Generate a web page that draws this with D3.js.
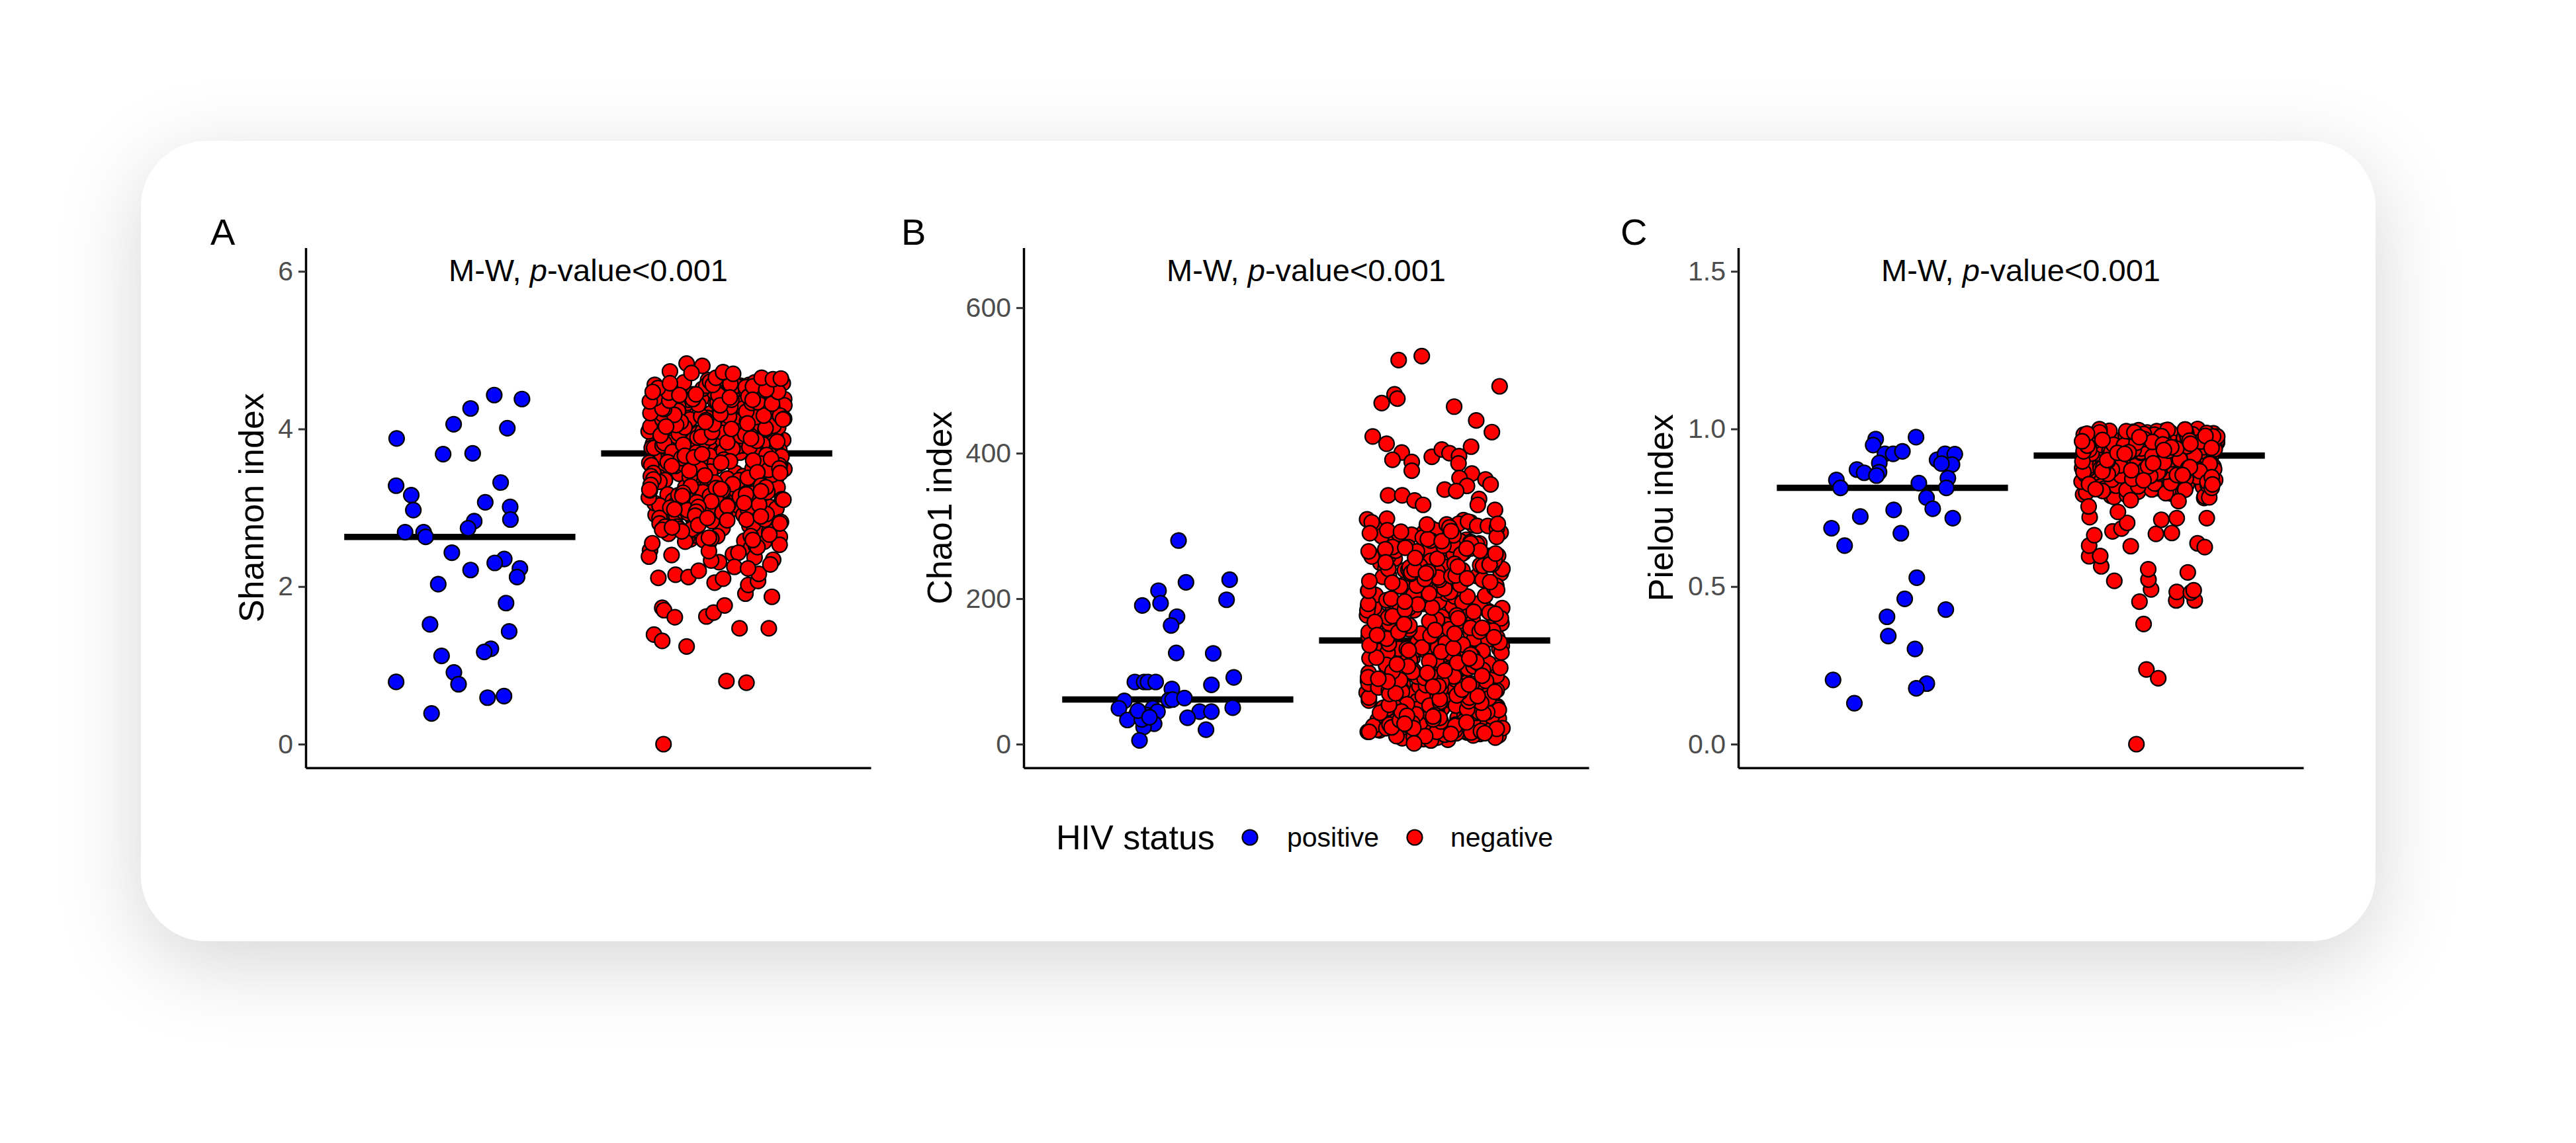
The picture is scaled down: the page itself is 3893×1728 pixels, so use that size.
<!DOCTYPE html>
<html>
<head>
<meta charset="utf-8">
<script src="https://cdn.jsdelivr.net/npm/d3@7"></script>
<style>
html, body { margin: 0; padding: 0; background: #ffffff; }
svg { display: block; }
text { font-family: "Liberation Sans", Arial, Helvetica, sans-serif; }
</style>
</head>
<body>
<svg id="chart" width="3893" height="1728"></svg>
<script>
// ---------------- DATA ----------------
const categories = ["positive", "negative"];
const legendTitle = "HIV status";
const panelLetters = ["A", "B", "C"];
const yTitles = ["Shannon index", "Chao1 index", "Pielou index"];
const testLabelPrefix = "M-W, ";
const testLabelItalic = "p";
const testLabelSuffix = "-value<0.001";

const shannonLimits = [0, 6];
const chaoLimits = [0, 650];
const pielouLimits = [0, 1.5];
const shannonTicks = [0, 2, 4, 6];
const chaoTicks = [0, 200, 400, 600];
const pielouTicks = [0, 0.5, 1.0, 1.5];

// HIV positive (jitter = horizontal offset in category steps)
const shannonPositive = [4.43,4.38,4.26,4.06,4.01,3.88,3.68,3.69,3.32,3.28,3.16,3.07,3.01,2.97,2.85,2.83,2.74,2.69,2.69,2.63,2.43,2.35,2.30,2.23,2.21,2.12,2.03,1.79,1.52,1.43,1.21,1.17,1.12,0.91,0.79,0.76,0.59,0.61,0.39];
const shannonPositiveJitter = [0.134,0.242,0.042,-0.024,0.185,-0.246,-0.065,0.050,0.159,-0.248,-0.189,0.099,0.196,-0.181,0.197,0.056,0.032,-0.213,-0.141,-0.133,-0.031,0.173,0.136,0.234,0.042,0.223,-0.084,0.180,-0.116,0.192,0.121,0.095,-0.071,-0.023,-0.248,-0.005,0.108,0.172,-0.110];

const chaoPositive = [279.9,222.5,226.1,211,190.7,193.7,198.5,175.3,163.2,125.4,124.8,85.5,85.5,85.5,85.5,91.8,81.5,75.8,60.4,61.3,63.4,59.5,49.2,50.1,41.6,49.2,44.7,40.2,33.2,28.1,44.7,44.7,36.2,23.5,19.9,5.1,34,46,37];
const chaoPositiveJitter = [0.003,0.032,0.202,-0.075,-0.138,-0.067,0.190,-0.003,-0.026,-0.006,0.138,-0.167,-0.131,-0.116,-0.086,0.218,0.131,-0.023,-0.035,-0.020,0.026,-0.208,-0.229,0.214,-0.160,-0.097,-0.079,-0.122,-0.196,-0.092,0.085,0.131,0.038,-0.133,0.110,-0.149,-0.140,-0.155,-0.110];

const pielouPositive = [0.974,0.968,0.949,0.921,0.921,0.929,0.902,0.921,0.920,0.887,0.890,0.892,0.863,0.871,0.861,0.852,0.844,0.838,0.828,0.813,0.813,0.782,0.747,0.743,0.722,0.717,0.685,0.669,0.630,0.528,0.461,0.427,0.404,0.343,0.302,0.204,0.192,0.177,0.130];
const pielouPositiveJitter = [0.092,-0.065,-0.075,-0.029,0.003,0.039,0.174,0.205,0.243,0.232,0.191,-0.051,-0.052,-0.138,-0.110,-0.062,0.216,-0.218,0.103,0.210,-0.202,0.133,0.157,0.005,-0.125,0.235,-0.237,0.033,-0.186,0.095,0.048,0.208,-0.021,-0.016,0.088,-0.231,0.134,0.093,-0.148];

// the rest belong to the dense cloud (jitter drawn deterministically, as geom_jitter does)
const shannonNegative = [
0.00,0.80,0.78,1.39,1.31,1.24,1.47,1.47,1.73,1.70,1.61,1.62,1.67,1.76,1.87,1.91,2.02,2.07,2.11,2.15,2.12,2.20,2.05,2.10,2.16,2.28,2.25,2.23,
4.83,4.80,4.73,4.71,4.58,4.47,4.65,4.72,4.70,4.65,4.63,4.64,
3.71,3.93,3.76,3.85,3.98,3.72,3.81,3.88,3.74,3.95,3.79,3.70,3.91,3.83,3.77,3.86,3.97,3.73,3.89,3.80,
3.94,3.75,3.84,3.92,3.78,3.99,3.82,3.71,3.87,3.96,3.74,3.90,3.76,3.85,3.93,3.72,3.81,3.98,3.79,3.88,
3.70,3.84,3.95,3.77,3.91,3.73,3.86,3.82,3.97,3.75,3.89,3.80,3.94,3.78,3.92,
4.02,4.18,4.27,4.09,4.13,4.24,4.05,4.21,4.11,4.16,4.28,4.03,4.19,4.07,4.25,4.14,4.00,4.22,4.10,4.17,
4.06,4.26,4.12,4.20,4.04,4.15,4.29,4.08,4.23,4.01,4.19,4.11,4.26,4.05,4.14,4.22,4.09,4.17,4.02,4.27,
4.13,4.24,4.07,4.20,4.16,4.03,4.28,4.10,4.21,4.06,4.18,4.25,4.12,4.04,4.23,4.15,4.08,4.29,4.01,4.16,
4.31,4.47,4.56,4.38,4.43,4.52,4.34,4.60,4.41,4.49,4.36,4.55,4.32,4.44,4.58,4.39,4.50,4.33,4.46,4.62,
4.37,4.53,4.42,4.30,4.57,4.45,4.35,4.51,4.40,4.59,4.48,4.34,4.54,4.43,4.61,4.38,4.46,4.31,4.52,4.41,
4.56,4.36,4.49,4.44,4.33,4.58,4.39,4.47,4.53,4.32,4.42,4.55,4.37,
3.31,3.52,3.64,3.41,3.58,3.36,3.67,3.45,3.55,3.33,3.62,3.48,3.39,3.57,3.44,3.66,3.35,3.50,3.61,3.42,
3.54,3.30,3.47,3.68,3.38,3.59,3.43,3.53,3.65,3.34,3.49,3.60,3.37,3.56,3.46,3.63,3.32,3.51,3.40,3.58,
3.66,3.44,3.55,3.36,3.62,3.48,3.67,3.39,3.53,3.45,3.60,3.33,3.57,3.42,3.64,3.50,3.35,3.61,3.47,3.54,
2.93,3.14,3.27,3.02,3.19,2.97,3.08,3.23,2.91,3.12,3.05,3.25,2.95,3.17,3.00,3.21,3.10,2.98,3.28,3.06,
3.15,2.92,3.20,3.03,3.26,3.11,2.96,3.18,3.07,3.24,2.94,3.13,3.01,3.22,3.09,2.99,3.29,3.04,3.16,2.90,
3.12,3.26,2.97,3.19,3.06,3.23,3.02,3.15,2.95,3.09,
2.58,2.74,2.86,2.63,2.81,2.69,2.57,2.77,2.88,2.66,2.72,2.60,2.84,2.79,2.65,2.56,2.83,2.70,2.62,2.87,
2.76,2.68,2.59,2.85,2.73,2.64,2.80,2.71,
2.34,2.49,2.41,2.53,2.37,2.46,2.31,2.52,2.43,2.38,2.50,2.33,2.45,2.40,
3.72,3.87,3.95,3.78,3.83,3.91,3.74,3.99,3.81,3.86,3.76,3.93,3.70,3.89,3.84,3.79,3.97,3.73,3.90,3.82,
3.77,3.94,3.85,3.71,3.88,3.96,3.75,3.80,3.92,3.83,
4.04,4.21,4.12,4.27,4.08,4.17,4.01,4.24,4.14,4.19,4.06,4.29,4.10,4.23,4.02,4.16,4.26,4.09,4.20,4.13,
4.05,4.28,4.18,4.11,4.25,4.03,4.15,4.22,4.07,4.19,4.12,4.26,4.00,4.17,4.09,
4.33,4.51,4.42,4.59,4.37,4.48,4.31,4.55,4.45,4.39,4.61,4.34,4.50,4.43,4.57,4.36,4.46,4.53,4.30,4.41,
4.58,4.38,4.49,4.44,4.35,4.54,4.40,4.60,4.32,4.47,4.52,4.37,4.56,4.43,4.50,
3.34,3.58,3.46,3.65,3.39,3.52,3.31,3.61,3.43,3.55,3.37,3.67,3.49,3.32,3.59,3.44,3.63,3.35,3.51,3.40,
3.66,3.47,3.56,3.33,3.60,3.42,3.54,3.38,3.64,3.48,3.30,3.57,3.45,3.62,3.36,3.50,3.68,3.41,3.53,3.44,
2.96,3.18,3.05,3.27,2.91,3.13,3.22,3.00,3.09,2.94,3.25,3.16,2.99,3.07,3.20,2.93,3.11,3.28,3.03,3.14,
2.97,3.24,3.08,2.92,3.19,3.01,3.26,3.12,2.95,3.17,3.04,3.21,2.98,3.10,3.29,3.06,3.15,2.90,3.23,3.02,
2.61,2.78,2.67,2.85,2.57,2.73,2.89,2.64,2.82,2.70,2.59,2.76,2.87,2.66,2.80,2.55,2.72,2.84,2.62,2.75];
const shannonNegativeJitter = [-0.207,0.038,0.116,-0.244,-0.212,-0.117,0.089,0.203,-0.212,-0.205,-0.163,-0.040,-0.012,0.031,0.215,0.112,0.123,0.161,-0.227,-0.160,-0.110,-0.070,-0.008,0.025,0.164,0.209,0.069,0.122,
-0.117,-0.056,-0.182,-0.098,-0.182,-0.249,-0.003,0.025,0.064,0.175,0.219,0.250];

const chaoNegative = [
528,533.5,492,481,475,469,464,445,429,423,413,401,391,388,376,395,405,400,396,409,386,372,364,357,350,366,355,348,337,329,322,303,342,342,335,329,1,
8,23,36,14,29,11,33,19,38,6,26,16,31,21,40,12,35,9,27,18,37,24,13,30,7,22,34,17,39,10,
28,15,32,20,25,5,36,13,29,22,11,38,17,26,31,
43,67,81,52,74,58,88,46,63,79,55,70,85,49,61,77,44,90,57,68,83,51,72,60,87,47,65,80,54,76,
42,69,84,59,73,48,62,89,56,78,45,66,82,53,71,64,86,50,75,41,60,87,47,70,57,79,52,83,44,67,
74,58,89,63,49,81,55,72,
93,118,134,102,125,109,139,97,114,129,105,121,137,95,111,127,100,132,116,141,92,107,123,136,99,119,130,104,113,138,
96,126,110,133,101,122,115,140,94,128,108,135,103,117,131,98,124,112,137,106,120,91,129,114,139,101,126,109,133,96,
118,104,135,111,123,99,131,107,140,116,
146,172,189,155,181,163,197,150,176,159,185,168,193,148,179,161,200,153,174,187,157,191,166,145,183,170,195,152,178,162,
188,149,173,198,158,184,165,151,180,194,147,169,186,156,177,199,160,175,190,154,182,164,196,144,171,
204,231,248,215,239,208,257,222,243,211,235,252,218,227,206,246,233,259,213,241,224,202,250,229,216,244,237,209,255,220,
247,226,205,238,258,214,232,249,219,242,207,253,228,240,212,245,223,236,260,217,230,203,
264,289,305,272,296,268,281,308,276,293,262,287,301,270,284,298,266,279,310,291,274,303,285,263,297,278,290,306,269,282,
300,275,294,267,288,309,280,271,302,286,265,
12,47,31,58,19,40,25,53,9,36,44,16,29,55,21,50,34,14,42,27,57,18,38,23,48,11,33,52,26,45,15,39,59,22,30,49,17,43,28,54,
64,97,122,78,135,88,109,71,128,93,116,83,139,67,104,125,76,112,91,131,62,100,119,85,137,73,107,95,126,80,
114,69,133,102,87,121,75,140,98,110,66,129,82,117,92,136,70,105,123,79,113,94,138,86,101,127,72,118,90,132,
147,187,166,209,158,195,174,216,152,181,203,169,190,149,212,177,161,198,184,155,219,171,193,145,206,163,188,179,214,157,
200,168,150,192,176,211,160,185,207,173,196,154,218,182,165,
226,263,241,289,234,271,252,298,229,258,280,245,305,237,268,222,284,250,294,231,261,276,243,300,255,227,287,266,239,292,
248,273,224,282,259,236,302,253,270,232,290,244,265,228,279,297,240,256,285,223,269,247,293,262,235];
const chaoNegativeJitter = [-0.140,-0.050,0.253,-0.156,-0.145,-0.206,0.076,0.162,0.223,-0.241,-0.187,-0.128,-0.164,-0.089,-0.089,-0.011,0.028,0.058,0.095,0.142,0.093,0.145,0.198,0.218,0.039,0.097,0.126,0.084,0.173,0.168,0.235,0.246,-0.181,-0.126,-0.078,-0.045,-0.080];

const pielouNegative = [
0.000,0.237,0.209,0.381,0.452,0.456,0.456,0.483,0.481,0.488,0.491,0.522,0.555,0.545,0.518,0.564,0.596,0.597,0.630,0.663,0.628,0.637,0.625,0.675,0.684,0.702,0.667,0.670,0.712,0.717,0.717,0.720,0.737,0.754,0.771,0.774,
0.781,0.823,0.846,0.795,0.812,0.838,0.788,0.829,0.801,0.843,0.817,0.784,0.834,0.808,0.849,0.792,0.826,0.815,0.840,0.798,
0.831,0.786,0.819,0.845,0.804,0.836,0.790,0.827,0.811,0.848,0.796,0.822,0.842,0.807,0.833,0.783,0.820,0.839,0.803,0.828,
0.856,0.887,0.912,0.868,0.899,0.874,0.905,0.861,0.893,0.917,0.879,0.852,0.902,0.884,0.866,0.910,0.890,0.858,0.896,0.871,
0.915,0.882,0.863,0.907,0.876,0.894,0.853,0.919,0.888,0.869,0.900,0.859,0.913,0.881,0.872,0.897,0.864,0.909,0.885,0.855,
0.903,0.877,0.916,0.891,0.860,0.898,0.873,0.911,0.867,0.886,0.906,0.857,0.895,0.880,0.914,0.870,0.901,0.862,0.889,0.918,
0.875,0.904,0.854,0.892,0.878,0.908,0.865,
0.924,0.957,0.981,0.936,0.969,0.943,0.992,0.928,0.962,0.986,0.949,0.933,0.975,0.921,0.955,0.998,0.940,0.967,0.930,0.984,
0.952,0.971,0.926,0.946,0.989,0.938,0.963,0.978,0.931,0.959,0.995,0.944,0.973,0.922,0.966,0.950,0.987,0.935,0.979,0.958,
0.927,0.970,0.947,0.993,0.939,0.961,0.983,0.925,0.954,0.976,0.942,0.968,0.996,0.932,0.960,0.980,0.948,0.923,0.972,0.937,
0.990,0.956,0.929,0.965,0.985,0.945,0.974,0.934,0.962,1.000,0.951,0.977,0.941,0.964,0.988,0.926,0.953,0.982,0.936,0.970,
0.947,0.994,0.931,0.958,0.979,0.943,0.967,0.922,0.975,0.955,0.986,0.939,0.961,0.928,0.972,0.949,0.991,0.933,0.966,0.984,
0.944,0.957,0.978,0.924,0.969,0.952,0.997,0.935,0.963,0.981,0.940,0.973,0.927,0.959,0.987,0.946,0.968,0.930,0.976,0.954,
0.999,0.938,0.965,0.983,0.942,0.971,0.925,0.960,0.989,0.950,0.934,0.977,0.948,
0.806,0.872,0.835,0.903,0.851,0.889,0.818,0.864,0.913,0.842,0.881,0.825,0.897,0.858,0.809,0.876,0.837,0.908,0.866,0.832,
0.894,0.847,0.916,0.813,0.879,0.854,0.901,0.824,0.869,0.891,
0.931,0.968,0.945,0.987,0.924,0.959,0.976,0.938,0.993,0.951,0.965,0.929,0.982,0.947,0.971,0.935,0.998,0.956,0.926,0.978,
0.942,0.963,0.989,0.933,0.974,0.953,0.921,0.985,0.961,0.940];
const pielouNegativeJitter = [-0.050,-0.011,0.035,-0.022,-0.038,0.105,0.177,0.107,0.162,0.173,0.007,-0.003,-0.004,0.150,-0.136,-0.187,-0.234,-0.191,-0.234,-0.214,-0.072,0.188,0.216,-0.143,-0.108,-0.086,0.026,0.088,0.047,0.107,0.224,-0.232,-0.122,-0.236,0.114,-0.072];

// ---------------- DRAWING ----------------
const svg = d3.select("#chart");
const defs = svg.append("defs");
const flt = defs.append("filter").attr("id", "cardShadow")
  .attr("x", "-20%").attr("y", "-30%").attr("width", "140%").attr("height", "170%");
flt.append("feDropShadow").attr("dx", 0).attr("dy", 32).attr("stdDeviation", 62)
  .attr("flood-color", "#000").attr("flood-opacity", 0.16);

svg.append("rect").attr("x", 213).attr("y", 213).attr("width", 3377).attr("height", 1210)
  .attr("rx", 100).attr("ry", 100).attr("fill", "#ffffff").attr("filter", "url(#cardShadow)");

const colors = { positive: "#0000FF", negative: "#FF0000" };
const plotW = 854, plotTop = 374.5, plotBottom = 1160.75;

function denseJitter(i, seed) {
  const s = Math.sin(i * 127.13 + seed * 311.71 + 17.3) * 43758.5453;
  return ((s - Math.floor(s)) - 0.5) * 0.53;
}

const panels = [
  { letter: panelLetters[0], yTitle: yTitles[0], limits: shannonLimits, ticks: shannonTicks, fmt: d3.format("d"),
    pos: shannonPositive, posJ: shannonPositiveJitter, neg: shannonNegative, negJ: shannonNegativeJitter,
    left: 462, letterX: 318, yTitleX: 380 },
  { letter: panelLetters[1], yTitle: yTitles[1], limits: chaoLimits, ticks: chaoTicks, fmt: d3.format("d"),
    pos: chaoPositive, posJ: chaoPositiveJitter, neg: chaoNegative, negJ: chaoNegativeJitter,
    left: 1547, letterX: 1362, yTitleX: 1420 },
  { letter: panelLetters[2], yTitle: yTitles[2], limits: pielouLimits, ticks: pielouTicks, fmt: d3.format(".1f"),
    pos: pielouPositive, posJ: pielouPositiveJitter, neg: pielouNegative, negJ: pielouNegativeJitter,
    left: 2627, letterX: 2449, yTitleX: 2510 }
];

panels.forEach((p, k) => {
  const g = svg.append("g");
  const x = d3.scalePoint().domain(categories).range([p.left, p.left + plotW]).padding(0.6);
  const span = p.limits[1] - p.limits[0];
  const y = d3.scaleLinear().domain([p.limits[0] - 0.05 * span, p.limits[1] + 0.05 * span])
    .range([plotBottom, plotTop]);
  const step = x.step();

  // y axis
  const ya = g.append("g").attr("transform", `translate(${p.left},0)`)
    .call(d3.axisLeft(y).tickValues(p.ticks).tickFormat(p.fmt).tickSize(11).tickPadding(8).tickSizeOuter(0));
  ya.attr("font-size", null).attr("font-family", null);
  ya.select(".domain").attr("stroke", "#000").attr("stroke-width", 3.5);
  ya.selectAll(".tick line").attr("stroke", "#333333").attr("stroke-width", 3);
  ya.selectAll(".tick text").attr("fill", "#4D4D4D").style("font-size", "41px");

  // x axis (no ticks / labels)
  const xa = g.append("g").attr("transform", `translate(0,${plotBottom})`)
    .call(d3.axisBottom(x).tickValues([]).tickSizeOuter(0));
  xa.select(".domain").attr("stroke", "#000").attr("stroke-width", 3.5);

  // panel letter
  g.append("text").attr("x", p.letterX).attr("y", 370).text(p.letter)
    .style("font-size", "56px").attr("fill", "#000");

  // y title
  g.append("text").attr("transform", `translate(${p.yTitleX},${(plotTop + plotBottom) / 2}) rotate(-90)`)
    .attr("text-anchor", "middle").attr("dy", "0.35em").text(p.yTitle)
    .style("font-size", "52px").attr("fill", "#000");

  // test label
  const t = g.append("text").attr("x", p.left + plotW / 2).attr("y", 425).attr("text-anchor", "middle")
    .style("font-size", "47px").attr("fill", "#000");
  t.append("tspan").text(testLabelPrefix);
  t.append("tspan").attr("font-style", "italic").text(testLabelItalic);
  t.append("tspan").text(testLabelSuffix);

  const groups = [
    { cat: categories[0], vals: p.pos, jit: p.posJ },
    { cat: categories[1], vals: p.neg, jit: p.negJ }
  ];

  // median crossbars (under the points)
  groups.forEach(gr => {
    const m = d3.median(gr.vals);
    g.append("line")
      .attr("x1", x(gr.cat) - 0.45 * step).attr("x2", x(gr.cat) + 0.45 * step)
      .attr("y1", y(m)).attr("y2", y(m))
      .attr("stroke", "#000").attr("stroke-width", 9.5);
  });

  // jittered points
  groups.forEach((gr, gi) => {
    const pts = gr.vals.map((v, i) => ({
      v, explicit: i < gr.jit.length,
      j: i < gr.jit.length ? gr.jit[i] : denseJitter(i, k * 2 + gi)
    }));
    pts.sort((a, b) => (a.explicit === b.explicit ? 0 : a.explicit ? 1 : -1));
    g.append("g").selectAll("circle").data(pts).enter().append("circle")
      .attr("cx", d => x(gr.cat) + d.j * step)
      .attr("cy", d => y(d.v))
      .attr("r", 11.5)
      .attr("fill", colors[gr.cat])
      .attr("stroke", "#000")
      .attr("stroke-width", 2.2);
  });
});

// legend
const lg = svg.append("g");
const legendY = 1266;
lg.append("text").attr("x", 1596).attr("y", legendY).attr("dy", "0.35em").text(legendTitle)
  .style("font-size", "52px").attr("fill", "#000");
const legendItems = [
  { cat: categories[0], cx: 1889, tx: 1945 },
  { cat: categories[1], cx: 2138, tx: 2192 }
];
legendItems.forEach(it => {
  lg.append("circle").attr("cx", it.cx).attr("cy", legendY).attr("r", 11.5)
    .attr("fill", colors[it.cat]).attr("stroke", "#000").attr("stroke-width", 2.2);
  lg.append("text").attr("x", it.tx).attr("y", legendY).attr("dy", "0.35em").text(it.cat)
    .style("font-size", "41px").attr("fill", "#000");
});
</script>
</body>
</html>
